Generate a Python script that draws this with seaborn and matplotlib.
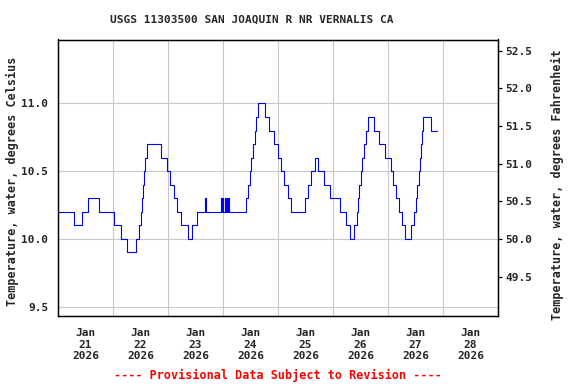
import matplotlib
matplotlib.use('Agg')
import matplotlib.pyplot as plt
import matplotlib.dates as mdates
import seaborn as sns
import pandas as pd

# step changes: hours after Jan 21 2026 00:00, temp in deg C
change_hours = [0, 6.9, 10.6, 13.2, 18.0, 24.5, 27.6, 30.2, 34.2, 35.5,
                36.1, 36.5, 36.9, 37.7, 38.0, 38.7, 45.1, 47.5, 48.7, 50.8,
                51.8, 53.8, 56.7, 58.3, 60.5, 64.0, 64.5,
                71.1, 71.35, 71.6, 71.85, 72.7, 72.95, 73.2, 73.45, 73.7, 73.95, 74.2, 74.45,
                82.1, 82.9, 83.6, 84.3, 85.0, 85.8, 86.5, 87.1, 90.5, 92.0,
                94.3, 96.0, 97.4, 98.7, 100.2, 101.5, 107.8, 109.0, 110.4, 112.3,
                113.6, 116.2, 118.5, 123.1, 125.7, 127.6, 129.2, 130.3, 131.1, 131.5,
                132.2, 132.8, 133.7, 134.4, 135.4, 138.0, 140.1, 142.8, 145.2, 146.0,
                147.5, 148.9, 150.1, 151.6, 154.2, 155.3, 156.0, 156.6, 157.4, 157.8,
                158.2, 158.7, 159.4, 162.9, 165.2]
temps_c = [10.2, 10.1, 10.2, 10.3, 10.2, 10.1, 10.0, 9.9, 10.0, 10.1,
           10.2, 10.3, 10.4, 10.5, 10.6, 10.7, 10.6, 10.5, 10.4, 10.3,
           10.2, 10.1, 10.0, 10.1, 10.2, 10.3, 10.2,
           10.3, 10.2, 10.3, 10.2, 10.3, 10.2, 10.3, 10.2, 10.3, 10.2, 10.3, 10.2,
           10.3, 10.4, 10.5, 10.6, 10.7, 10.8, 10.9, 11.0, 10.9, 10.8,
           10.7, 10.6, 10.5, 10.4, 10.3, 10.2, 10.3, 10.4, 10.5, 10.6,
           10.5, 10.4, 10.3, 10.2, 10.1, 10.0, 10.1, 10.2, 10.3, 10.4,
           10.5, 10.6, 10.7, 10.8, 10.9, 10.8, 10.7, 10.6, 10.5, 10.4,
           10.3, 10.2, 10.1, 10.0, 10.1, 10.2, 10.3, 10.4, 10.5, 10.6,
           10.7, 10.8, 10.9, 10.8, 10.8]

c_ticks = [9.5, 10.0, 10.5, 11.0]
f_ticks = [49.5, 50.0, 50.5, 51.0, 51.5, 52.0, 52.5]
label_days = ['2026-01-21', '2026-01-22', '2026-01-23', '2026-01-24',
              '2026-01-25', '2026-01-26', '2026-01-27', '2026-01-28']

title = 'USGS 11303500 SAN JOAQUIN R NR VERNALIS CA'
left_label = 'Temperature, water, degrees Celsius'
right_label = 'Temperature, water, degrees Fahrenheit'
footer = '---- Provisional Data Subject to Revision ----'

sns.set_theme(style='white')
plt.rcParams['font.family'] = ['DejaVu Sans Mono']
plt.rcParams['font.weight'] = 'bold'

base = pd.Timestamp('2026-01-21')
df = pd.DataFrame({'time': base + pd.to_timedelta(change_hours, unit='h'),
                   'temp': temps_c})

fig = plt.figure(figsize=(5.76, 3.84), dpi=100)
ax = fig.add_axes([58 / 576, 1 - 316 / 384, 440 / 576, 276.5 / 384])

sns.lineplot(data=df, x='time', y='temp', ax=ax, color='#0000FF',
             linewidth=0.8, drawstyle='steps-post', estimator=None, sort=False)

lo, hi = 9.431, 11.472
ax.set_ylim(lo, hi)
ax.set_xlim(pd.Timestamp('2026-01-21'), pd.Timestamp('2026-01-29'))

# labels at noon, grid at midnight
noons = [pd.Timestamp(d) + pd.Timedelta(hours=12) for d in label_days]
ax.set_xticks(noons)
ax.set_xticklabels([pd.Timestamp(d).strftime('%b\n%d\n%Y') for d in label_days],
                   fontsize=8, fontweight='bold', linespacing=1.15)
ax.xaxis.set_minor_locator(mdates.DayLocator())
ax.set_yticks(c_ticks)
ax.set_yticklabels([f'{v:.1f}' for v in c_ticks], fontsize=8, fontweight='bold')
ax.tick_params(axis='x', which='both', length=0, pad=9)
ax.tick_params(axis='y', length=0, pad=7)
ax.grid(which='minor', axis='x', color='#c8c8c8', linewidth=0.8)
ax.grid(which='major', axis='y', color='#c8c8c8', linewidth=0.8)
ax.grid(which='major', axis='x', visible=False)
ax.set_axisbelow(True)
ax.set_xlabel('')
ax.set_ylabel('')
for s in ax.spines.values():
    s.set_color('black')
    s.set_linewidth(0.9)

ax2 = ax.twinx()
ax2.set_ylim(lo * 1.8 + 32, hi * 1.8 + 32)
ax2.set_yticks(f_ticks)
ax2.set_yticklabels([f'{v:.1f}' for v in f_ticks], fontsize=8, fontweight='bold')
ax2.tick_params(axis='y', direction='out', length=3, width=0.9, color='black', pad=2)
ax2.grid(False)
for s in ax2.spines.values():
    s.set_color('black')
    s.set_linewidth(0.9)

fig.text(252 / 576, 1 - 20 / 384, title, ha='center', va='center',
         fontsize=8, fontweight='bold')
fig.text(12 / 576, 1 - 181 / 384, left_label, rotation=90, ha='center',
         va='center', fontsize=8.5, fontweight='bold')
fig.text(557 / 576, 1 - 185 / 384, right_label, rotation=90, ha='center',
         va='center', fontsize=8.5, fontweight='bold')
fig.text(278 / 576, 1 - 375 / 384, footer, ha='center', va='center',
         fontsize=8.5, fontweight='bold', color='#FF0000')

fig.savefig('out.png', dpi=100)
